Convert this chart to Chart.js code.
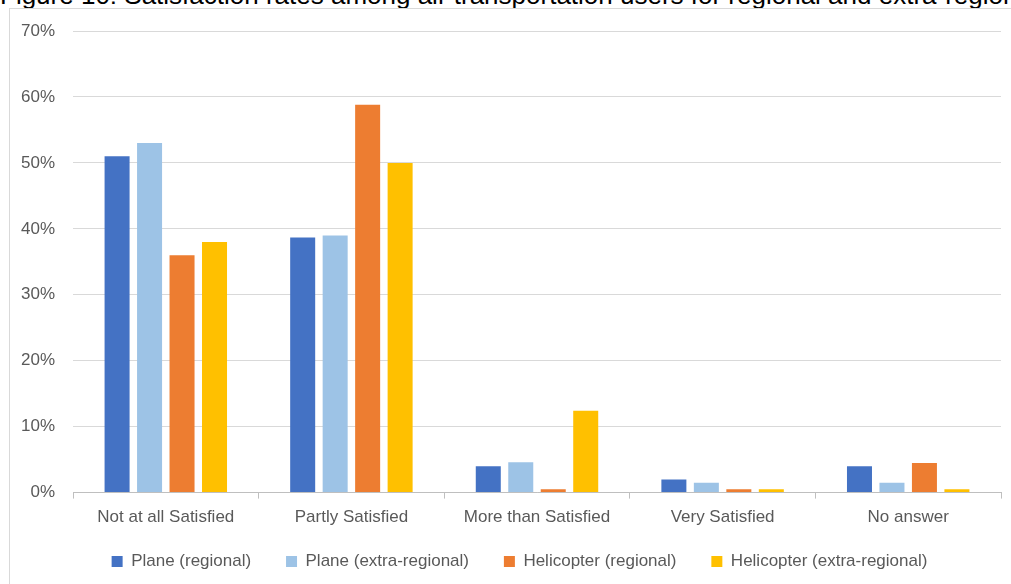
<!DOCTYPE html>
<html>
<head>
<meta charset="utf-8">
<script src="https://cdn.jsdelivr.net/npm/chart.js@4"></script>
<style>
  html, body { margin:0; padding:0; background:#fff; overflow:hidden; }
  #wrap { position:relative; width:1011px; height:584px; }
  #title { position:absolute; left:0; top:-18px; line-height:27px; white-space:nowrap; font-family:'Liberation Sans', Arial, sans-serif; font-size:26px; color:#000; }
  #frame { position:absolute; left:9px; top:8px; width:1100px; height:700px; border:1px solid #D9D9D9; box-sizing:border-box; }
  #chart-box { position:absolute; left:0; top:0; width:1011px; height:584px; }
</style>
</head>
<body>
<div id="wrap">
  <div id="title">Figure 10: Satisfaction rates among air transportation users for regional and extra-regional flights</div>
  <div id="frame"></div>
  <div id="chart-box"><canvas id="chart-sat"></canvas></div>
</div>
<script>
const categories = ['Not at all Satisfied', 'Partly Satisfied', 'More than Satisfied', 'Very Satisfied', 'No answer'];
const seriesNames = ['Plane (regional)', 'Plane (extra-regional)', 'Helicopter (regional)', 'Helicopter (extra-regional)'];
const planeRegional      = [51, 38.7, 4, 2, 4];
const planeExtraRegional = [53, 39, 4.6, 1.5, 1.5];
const heliRegional       = [36, 58.8, 0.5, 0.5, 4.5];
const heliExtraRegional  = [38, 50, 12.4, 0.5, 0.5];
const yTicks = [0, 10, 20, 30, 40, 50, 60, 70];

const COLORS = ['#4472C4', '#9DC3E6', '#ED7D31', '#FFC000'];
const FONT = "'Liberation Sans', Arial, sans-serif";
const TXT  = '#595959';

const datasets = [planeRegional, planeExtraRegional, heliRegional, heliExtraRegional].map((vals, i) => ({
  label: seriesNames[i], data: vals, backgroundColor: COLORS[i], borderWidth: 0,
  categoryPercentage: 0.7, barPercentage: 0.77
}));

// legend sits a little right of the canvas centre in the original
const shiftLegend = {
  id: 'shiftLegend',
  afterLayout(chart) { const lg = chart.legend; if (lg) { lg.left += 19; lg.right += 19; } }
};

new Chart(document.getElementById('chart-sat'), {
  type: 'bar',
  data: { labels: categories, datasets },
  plugins: [shiftLegend],
  options: {
    responsive: true, maintainAspectRatio: false, animation: false,
    layout: { padding: { top: 31, right: 10, left: 0, bottom: 4 } },
    plugins: {
      tooltip: { enabled: false },
      legend: {
        position: 'bottom',
        labels: {
          font: { family: FONT, size: 17 }, color: TXT, boxWidth: 11, boxHeight: 11, padding: 16,
          // pad the gap after each entry (wider than the vertical padding allows)
          generateLabels: chart => Chart.defaults.plugins.legend.labels.generateLabels(chart)
            .map((it, i, arr) => ({ ...it, text: i < arr.length - 1 ? it.text + '\u00a0\u00a0\u00a0\u00a0' : it.text }))
        }
      }
    },
    scales: {
      x: {
        grid: { display: true, drawOnChartArea: false, drawTicks: true, tickLength: 6, color: '#BFBFBF', offset: true },
        border: { color: '#BFBFBF' },
        ticks: { font: { family: FONT, size: 17 }, color: TXT, padding: 9 }
      },
      y: {
        min: 0, max: 70,
        afterFit: s => { s.width = 73; },
        afterBuildTicks: s => { s.ticks = yTicks.map(v => ({ value: v })); },
        grid: { color: '#D9D9D9', drawTicks: false },
        border: { display: false },
        ticks: { font: { family: FONT, size: 17 }, color: TXT, padding: 18, callback: v => v + '%' }
      }
    }
  }
});
</script>
</body>
</html>
